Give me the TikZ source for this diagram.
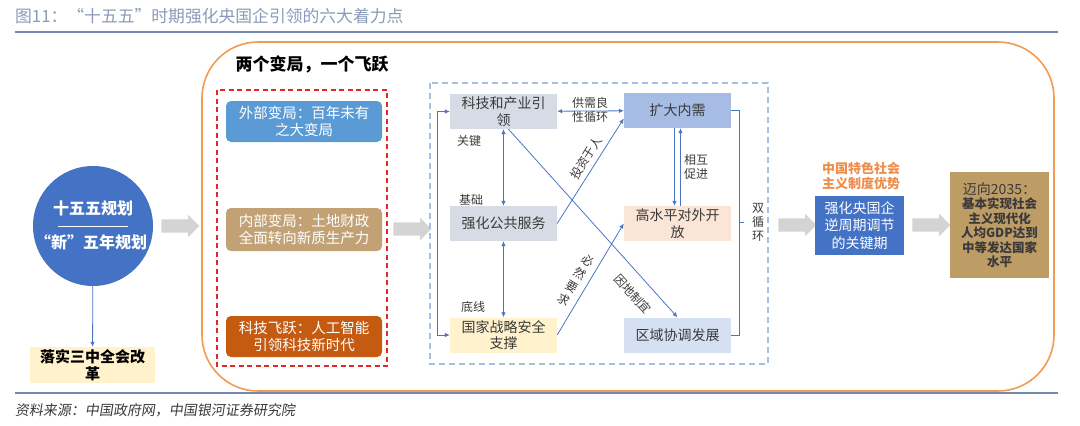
\documentclass[tikz,border=0pt]{standalone}
\usepackage{fontspec}
\setmainfont{Noto Sans CJK SC}
\newfontfamily\srcfont[FakeSlant=0.15]{Noto Sans CJK SC}
\usepackage{xcolor}
\usetikzlibrary{arrows.meta,shapes.arrows,calc}
\definecolor{titlegrey}{HTML}{8A9AB8}
\definecolor{rulecol}{HTML}{7288B0}
\definecolor{frameorange}{HTML}{F29B52}
\definecolor{reddash}{HTML}{E52626}
\definecolor{bluedash}{HTML}{A9BCE2}
\definecolor{planblue}{HTML}{4472C4}
\definecolor{linkblue}{HTML}{4A75C6}
\definecolor{shiftblue}{HTML}{5B9BD5}
\definecolor{shifttan}{HTML}{C2A274}
\definecolor{shiftrust}{HTML}{C55A11}
\definecolor{coregrey}{HTML}{D6DCE5}
\definecolor{coreblue}{HTML}{A6BCE5}
\definecolor{corepeach}{HTML}{FBE5D6}
\definecolor{coreyellow}{HTML}{FFF2CC}
\definecolor{corepale}{HTML}{D5E0F2}
\definecolor{inkgrey}{HTML}{3A3A3A}
\definecolor{arrowgrey}{HTML}{D4D4D4}
\definecolor{goaltan}{HTML}{BE9C66}
\definecolor{meritorange}{HTML}{F08C4A}
\tikzset{
  titletext/.style={anchor=west, inner sep=0pt, text=titlegrey, font=\fontsize{16.8}{18}\selectfont},
  sourcetext/.style={anchor=west, inner sep=0pt, text=inkgrey, font=\srcfont\fontsize{14}{16}\selectfont},
  headline/.style={inner sep=0pt, font=\fontsize{17}{19}\selectfont\bfseries},
  plancircle/.style={circle, fill=planblue, minimum size=120pt, inner sep=0pt},
  circletext/.style={inner sep=0pt, text=white, font=\fontsize{16}{18}\selectfont\bfseries},
  reformbox/.style={fill=coreyellow, align=center, minimum width=125pt, minimum height=36pt,
    inner sep=1pt, font=\fontsize{15}{16.5}\selectfont\bfseries},
  shiftbox/.style={rounded corners=5pt, text=white, align=center, minimum width=156pt,
    inner sep=1pt, font=\fontsize{14.5}{17.5}\selectfont},
  corebox/.style={align=center, minimum width=107pt, minimum height=35pt, inner sep=1pt,
    text=inkgrey, font=\fontsize{14}{16.5}\selectfont},
  keybox/.style={fill=planblue, text=white, align=center, minimum width=89pt, minimum height=59pt,
    inner sep=1pt, font=\fontsize{14}{17.5}\selectfont},
  goalbox/.style={fill=goaltan, text=inkgrey, align=center, minimum width=99pt, minimum height=106pt,
    inner sep=1pt, font=\fontsize{12.5}{14.5}\selectfont\bfseries},
  meritlabel/.style={text=meritorange, align=center, inner sep=0pt, font=\fontsize{13}{15.5}\selectfont\bfseries},
  edgelabel/.style={text=inkgrey, align=center, inner sep=0pt, font=\fontsize{12}{14}\selectfont},
  blockarrow/.style={single arrow, fill=arrowgrey, draw=none, inner xsep=0pt, inner ysep=6.5pt,
    single arrow head extend=4.5pt, minimum height=38pt},
  flow/.style={-{Latex[length=5pt,width=4.5pt]}, draw=linkblue, line width=0.8pt},
  dualflow/.style={{Latex[length=5pt,width=4.5pt]}-{Latex[length=5pt,width=4.5pt]}, draw=linkblue, line width=0.8pt},
  bracket/.style={draw=linkblue, line width=0.8pt},
}
\begin{document}
\begin{tikzpicture}[x=1pt, y=-1pt]
  \useasboundingbox (0,0) rectangle (1080,426);
  % 标题
  \node[titletext] (title) at (15,16) {图11：“十五五”时期强化央国企引领的六大着力点};
  \draw[rulecol, line width=1.3pt] (15,32) -- (1058,32);
  \draw[frameorange, line width=1.6pt, rounded corners=56pt] (202,42) rectangle (1054,391);

  % 左侧：规划
  \node[plancircle] (plan) at (93,226) {};
  \node[circletext] (planname) at (93,208) {十五五规划};
  \draw[white, line width=0.8pt] ([xshift=-35pt]plan.center) -- ([xshift=35pt]plan.center);
  \node[circletext] (plannew) at (91,242) {“新”五年规划};
  \node[reformbox] (reform) at (92.5,365) {落实三中全会改\\革};
  \draw[flow] (plan) -- (reform);
  \node[blockarrow] (gap1) at (177,226) {};

  % 两个变局，一个飞跃
  \node[headline] (head) at (312,64) {两个变局，一个飞跃};
  \draw[reddash, line width=1.3pt, dash pattern=on 5pt off 3.5pt] (217,90) rectangle (387,366);
  \node[shiftbox, fill=shiftblue, minimum height=41pt] (outer) at (304,121.5) {外部变局：百年未有\\之大变局};
  \node[shiftbox, fill=shifttan, minimum height=43pt] (inner) at (304,229.5) {内部变局：土地财政\\全面转向新质生产力};
  \node[shiftbox, fill=shiftrust, minimum height=41pt] (leap) at (304,336.5) {科技飞跃：人工智能\\引领科技新时代};
  \node[blockarrow] (gap2) at (409,229) {};

  % 六大着力点
  \draw[bluedash, line width=1.3pt, dash pattern=on 6pt off 4pt] (430,83) rectangle (768,364);
  \node[corebox, fill=coregrey] (tech) at (503.5,111.5) {科技和产业引\\领};
  \node[corebox, fill=coreblue] (demand) at (677.5,110.5) {扩大内需};
  \node[corebox, fill=coregrey] (public) at (503.5,223.5) {强化公共服务};
  \node[corebox, fill=corepeach] (open) at (677.5,223.5) {高水平对外开\\放};
  \node[corebox, fill=coreyellow] (safety) at (503.5,335) {国家战略安全\\支撑};
  \node[corebox, fill=corepale] (region) at (677.5,335) {区域协调发展};

  \draw[dualflow] (tech) -- (demand);
  \node[edgelabel] (cyclabel) at (590,110) {供需良\\性循环};
  \draw[dualflow] (tech) -- (public);
  \draw[dualflow] (public) -- (safety);
  \node[edgelabel] (keylabel) at (469,141) {关键};
  \node[edgelabel] (baselabel) at (471,200) {基础};
  \node[edgelabel] (linelabel) at (473,307) {底线};
  \draw[flow] ([xshift=-3pt]demand.south) -- ([xshift=-3pt]open.north);
  \draw[flow] ([xshift=3pt]open.north) -- ([xshift=3pt]demand.south);
  \node[edgelabel] (mutlabel) at (696,167) {相互\\促进};
  \draw[flow] (public.east) -- ([yshift=-8pt]demand.west);
  \node[edgelabel, rotate=58] (invlabel) at (586,158) {投资于人};
  \draw[flow] (safety.east) -- (open.west);
  \node[edgelabel, rotate=-31, font=\fontsize{12}{15}\selectfont] (reqlabel) at (576,280) {必\\然\\要\\求};
  \draw[flow] ([xshift=5pt]tech.south) -- (region.north);
  \node[edgelabel, rotate=-48] (loclabel) at (633,294) {因地制宜};
  \draw[dualflow] (tech.west) -- ++(-12,0) |- (safety.west);
  \draw[bracket] (demand.east) -- ++(8,0) coordinate (looptop) |- (region.east);
  \draw[bracket] ($(looptop)!0.5!(looptop |- region.east)$) -- ++(5,0) coordinate (loopmid);
  \node[edgelabel] (looplabel) at (758,222) {双\\循\\环};
  \node[blockarrow] (gap3) at (794,225) {};

  % 右侧
  \node[meritlabel] (merit) at (861,176) {中国特色社会\\主义制度优势};
  \node[keybox] (key) at (859.5,225.5) {强化央国企\\逆周期调节\\的关键期};
  \node[blockarrow] (gap4) at (928,225) {};
  \node[goalbox] (goal) at (999.5,225) {{\mdseries\fontsize{14}{16}\selectfont 迈向2035：}\\基本实现社会\\主义现代化\\人均GDP达到\\中等发达国家\\水平};

  % 来源
  \draw[rulecol, line width=1.3pt] (15,393) -- (1058,393);
  \node[sourcetext] (src) at (15,410) {资料来源：中国政府网，中国银河证券研究院};
\end{tikzpicture}
\end{document}
